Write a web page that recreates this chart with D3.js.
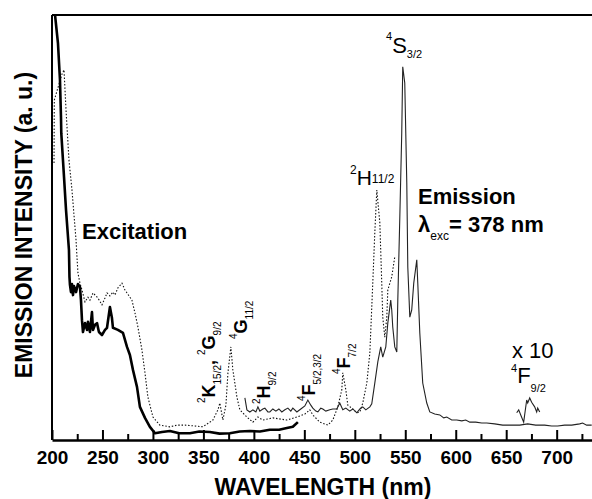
<!DOCTYPE html>
<html>
<head>
<meta charset="utf-8">
<script src="https://cdn.jsdelivr.net/npm/d3@7"></script>
<style>
  body { margin: 0; background: #fff; }
  svg { display: block; font-family: "Liberation Sans", Arial, sans-serif; }
</style>
</head>
<body>
<div id="chart"></div>
<script>
// Er3+ excitation / emission spectra, [wavelength nm, intensity a.u.]

// thick solid excitation curve
const excitationSolid = [
  [203.0,100],[205.9,93.4],[207.9,84.7],[208.9,76.0],[209.2,72.2],[211.9,61.9],[213.9,54.1],
  [216.8,44.7],[217.3,38.4],[217.8,36.5],[218.8,34.8],[219.8,36.7],[220.8,34.1],[221.8,36.2],
  [223.8,34.8],[225.7,36.7],[227.7,36.0],[228.7,32.9],[229.7,28.2],[230.7,25.4],[232.7,27.5],
  [234.7,25.9],[235.6,27.8],[237.6,25.4],[239.6,30.1],[240.6,25.9],[242.6,27.1],[244.6,27.5],
  [246.5,25.4],[249.5,24.7],[252.5,25.9],[254.5,26.4],[257.4,31.3],[259.4,28.7],[260.4,26.4],
  [265.3,25.9],[270.3,25.2],[274.3,21.9],[277.2,20.0],[280.2,16.5],[284.2,12.5],[287.1,7.8],
  [292.1,5.2],[297.0,3.1],[302.0,1.6],[309.0,1.9],[316.8,2.1],[326.0,1.6],[336.6,1.6],
  [346.0,2.0],[356.4,1.9],[366.0,1.5],[376.2,1.6],[386.0,2.0],[396.0,2.1],[406.0,2.0],
  [415.8,2.4],[425.0,2.4],[432.7,2.8],[438.6,3.1],[443.6,4.2]
];

// dotted excitation curve
const excitationDotted = [
  [202.0,65.2],[202.3,80.0],[209.9,86.1],[211.9,87.1],[213.9,77.6],[216.8,65.9],[219.8,58.8],
  [221.8,52.9],[223.8,47.1],[224.8,42.8],[225.7,39.3],[227.7,36.9],[229.7,35.3],[232.7,32.5],
  [235.6,33.6],[237.6,32.9],[240.6,34.6],[243.6,33.9],[245.5,33.4],[249.5,31.8],[252.5,33.4],
  [254.5,34.6],[257.4,33.9],[260.4,34.8],[262.4,34.1],[265.3,35.8],[269.3,36.9],[272.3,35.3],
  [274.3,34.6],[279.2,32.9],[282.2,29.9],[285.1,26.6],[289.1,21.2],[292.1,15.8],[295.0,10.1],
  [300.0,5.4],[306.9,3.5],[316.8,3.1],[324.0,3.5],[331.7,3.5],[341.6,3.3],[349.5,3.1],
  [359.4,4.7],[364.4,7.1],[366.3,8.7],[369.3,4.7],[372.3,8.2],[374.3,15.8],[377.2,21.9],
  [379.2,16.5],[383.2,10.1],[386.1,7.1],[393.1,5.4],[399.0,4.2],[404.0,5.4],[408.9,4.7],
  [418.8,5.2],[432.7,4.7],[442.6,5.4],[450.5,6.1],[455.4,7.1],[458.4,5.9],[465.3,4.2],
  [473.3,3.5],[478.2,4.7],[483.2,7.8],[487.1,11.8],[488.1,15.8],[491.1,11.8],[493.1,8.2],
  [497.0,7.5],[502.0,6.4],[505.0,6.6],[507.9,8.7],[511.9,13.4],[514.9,20.5],[517.8,36.9],
  [519.8,48.7],[521.8,58.8],[524.8,51.1],[526.7,36.9],[527.7,28.9],[529.7,24.2],[531.7,28.9],
  [532.7,35.3],[536.6,38.4],[539.6,43.1]
];

// thin solid emission curve
const emission = [
  [391.1,9.9],[393.1,7.1],[396.0,6.6],[399.0,7.1],[402.0,6.6],[404.0,7.8],[405.9,6.8],
  [408.9,7.3],[410.9,7.5],[413.9,6.6],[415.8,6.6],[418.8,7.3],[421.8,6.8],[424.8,7.3],
  [427.7,6.6],[430.7,7.1],[433.7,7.5],[436.6,6.8],[438.6,7.5],[442.6,6.6],[446.5,7.3],
  [450.5,8.0],[453.5,9.4],[456.4,8.2],[458.4,7.5],[461.4,6.8],[463.4,6.6],[466.3,7.5],
  [468.3,7.3],[471.3,6.8],[475.2,7.1],[478.2,7.3],[482.2,7.3],[485.1,8.7],[488.1,7.1],
  [491.1,7.5],[495.0,6.8],[498.0,7.3],[502.0,6.4],[505.0,7.3],[507.9,7.8],[510.9,7.1],
  [514.9,7.8],[516.8,8.5],[519.8,13.4],[522.8,18.4],[525.7,21.9],[527.7,19.5],[530.7,21.9],
  [532.7,27.5],[535.6,32.9],[536.6,30.6],[537.6,26.6],[539.6,21.9],[541.6,20.7],[542.6,32.9],
  [544.6,52.5],[546.5,72.2],[547.5,87.8],[549.5,84.0],[551.5,60.5],[552.5,40.7],[554.5,28.9],
  [556.4,30.6],[558.4,36.9],[561.4,42.4],[562.4,36.9],[564.4,25.2],[567.3,13.4],[571.3,8.7],
  [574.3,6.6],[579.2,6.1],[584.2,5.9],[588.1,5.2],[591.1,5.4],[596.0,4.7],[601.0,4.7],
  [606.0,4.5],[609.9,4.7],[613.9,4.2],[619.8,4.2],[625.7,4.0],[630.7,4.0],[638.6,3.8],
  [646.5,3.5],[655.4,3.5],[663.4,3.5],[671.3,3.8],[679.2,3.5],[688.1,3.5],[695.0,3.3],
  [701.0,3.3],[707.9,3.5],[714.9,3.5],[722.8,3.8],[725.7,4.0],[729.7,3.5],[734.7,3.5]
];

// 4F9/2 band magnified x10
const emissionX10 = [
  [660.4,6.4],[662.4,7.1],[664.4,5.9],[667.3,4.2],[670.3,9.4],[671.3,8.7],[673.3,9.9],
  [675.2,8.9],[678.2,7.8],[680.2,6.6],[681.2,7.5],[683.2,6.6]
];

const xMajorTicks = [200, 250, 300, 350, 400, 450, 500, 550, 600, 650, 700];
const xMinorTicks = [225, 275, 325, 375, 425, 475, 525, 575, 625, 675, 725];

const width = 592;
const height = 499;
const margin = { top: 15, left: 52, bottom: 440, right: 592 };

const svg = d3.select("#chart")
    .append("svg")
    .attr("width", width)
    .attr("height", height);

const x = d3.scaleLinear().domain([200, 735]).range([margin.left, margin.right]);
const y = d3.scaleLinear().domain([0, 100]).range([margin.bottom, margin.top]);

const line = d3.line()
    .x(d => x(d[0]))
    .y(d => y(d[1]));

// curves
svg.append("path")
    .datum(excitationDotted)
    .attr("d", line)
    .attr("fill", "none")
    .attr("stroke", "#111")
    .attr("stroke-width", 1.1)
    .attr("stroke-dasharray", "1.5,1.8");

svg.append("path")
    .datum(emission)
    .attr("d", line)
    .attr("fill", "none")
    .attr("stroke", "#222")
    .attr("stroke-width", 1.1);

svg.append("path")
    .datum(emissionX10)
    .attr("d", line)
    .attr("fill", "none")
    .attr("stroke", "#222")
    .attr("stroke-width", 1.1);

svg.append("path")
    .datum(excitationSolid)
    .attr("d", line)
    .attr("fill", "none")
    .attr("stroke", "#000")
    .attr("stroke-width", 2.6)
    .attr("stroke-linejoin", "round");

// axes
const xAxis = svg.append("g")
    .attr("transform", `translate(0,${margin.bottom})`)
    .call(d3.axisBottom(x).tickValues(xMajorTicks).tickSizeInner(-10).tickSizeOuter(0).tickPadding(11));

xAxis.select(".domain").attr("stroke-width", 2.5);
xAxis.selectAll(".tick line").attr("stroke-width", 2);
xAxis.selectAll(".tick text")
    .style("font-size", "19px")
    .style("font-weight", "bold")
    .style("font-family", "'Liberation Sans', Arial, sans-serif")
    .attr("fill", "#000");

svg.append("g")
    .attr("transform", `translate(0,${margin.bottom})`)
    .call(d3.axisBottom(x).tickValues(xMinorTicks).tickSizeInner(-6).tickSizeOuter(0).tickFormat(""))
    .call(g => g.select(".domain").remove())
    .selectAll(".tick line").attr("stroke-width", 2);

// frame: left and top
svg.append("line")
    .attr("x1", margin.left).attr("x2", margin.left)
    .attr("y1", margin.top).attr("y2", margin.bottom)
    .attr("stroke", "#000").attr("stroke-width", 2);
svg.append("line")
    .attr("x1", margin.left).attr("x2", width)
    .attr("y1", margin.top).attr("y2", margin.top)
    .attr("stroke", "#000").attr("stroke-width", 2);

// axis titles
svg.append("text")
    .attr("x", 323).attr("y", 495)
    .attr("text-anchor", "middle")
    .style("font-size", "23px").style("font-weight", "bold")
    .text("WAVELENGTH (nm)");

svg.append("text")
    .attr("transform", "translate(32,225) rotate(-90)")
    .attr("text-anchor", "middle")
    .style("font-size", "23px").style("font-weight", "bold")
    .text("EMISSION INTENSITY (a. u.)");

// spectroscopic labels built from tspans: sup / main / sub parts
function label(px, py, parts, opts) {
    const size = opts.size;
    const small = opts.small || size * 0.5;
    const supDy = opts.supDy !== undefined ? opts.supDy : -size * 0.6;
    const subDy = opts.subDy !== undefined ? opts.subDy : size * 0.3;
    const t = svg.append("text")
        .attr("transform", `translate(${px},${py}) rotate(${opts.rotate || 0})`)
        .style("font-weight", opts.bold ? "bold" : "normal")
        .attr("fill", "#000");
    let cur = 0;
    parts.forEach(([k, s]) => {
        const off = k === "sup" ? supDy : k === "sub" ? subDy : 0;
        t.append("tspan")
            .attr("dy", off - cur)
            .style("font-size", (k === "main" ? size : small) + "px")
            .style("font-weight", k === "main" ? null : "normal")
            .text(s);
        cur = off;
    });
}

label(82, 239, [["main", "Excitation"]], { size: 22, bold: true });
label(418, 204, [["main", "Emission"]], { size: 22, bold: true });
label(418, 232, [["main", "λ"], ["sub", "exc"], ["main", "= 378 nm"]],
    { size: 22, bold: true, small: 12, subDy: 8 });

label(386, 53, [["sup", "4"], ["main", "S"], ["sub", "3/2"]], { size: 22, small: 11, supDy: -13, subDy: 5 });
label(350, 185, [["sup", "2"], ["main", "H"], ["sub", "11/2"]], { size: 21, small: 12, supDy: -11, subDy: -2 });
label(512, 358, [["main", "x 10"]], { size: 22 });
label(511, 383, [["sup", "4"], ["main", "F"], ["sub", "9/2"]], { size: 22, small: 11, supDy: -11, subDy: 9 });

label(215, 403, [["sup", "2"], ["main", "K"], ["sub", "15/2"], ["main", ", "], ["sup", "2"], ["main", "G"], ["sub", "9/2"]],
    { size: 18, bold: true, small: 10, rotate: -90, supDy: -10, subDy: 6 });
label(247, 339, [["sup", "4"], ["main", "G"], ["sub", "11/2"]],
    { size: 18, bold: true, small: 10, rotate: -90, supDy: -10, subDy: 6 });
label(270, 404, [["sup", "2"], ["main", "H"], ["sub", "9/2"]],
    { size: 18, bold: true, small: 10, rotate: -90, supDy: -10, subDy: 6 });
label(315, 401, [["sup", "4"], ["main", "F"], ["sub", "5/2,3/2"]],
    { size: 18, bold: true, small: 10, rotate: -90, supDy: -10, subDy: 6 });
label(350, 374, [["sup", "4"], ["main", "F"], ["sub", "7/2"]],
    { size: 18, bold: true, small: 10, rotate: -90, supDy: -10, subDy: 6 });
</script>
</body>
</html>
